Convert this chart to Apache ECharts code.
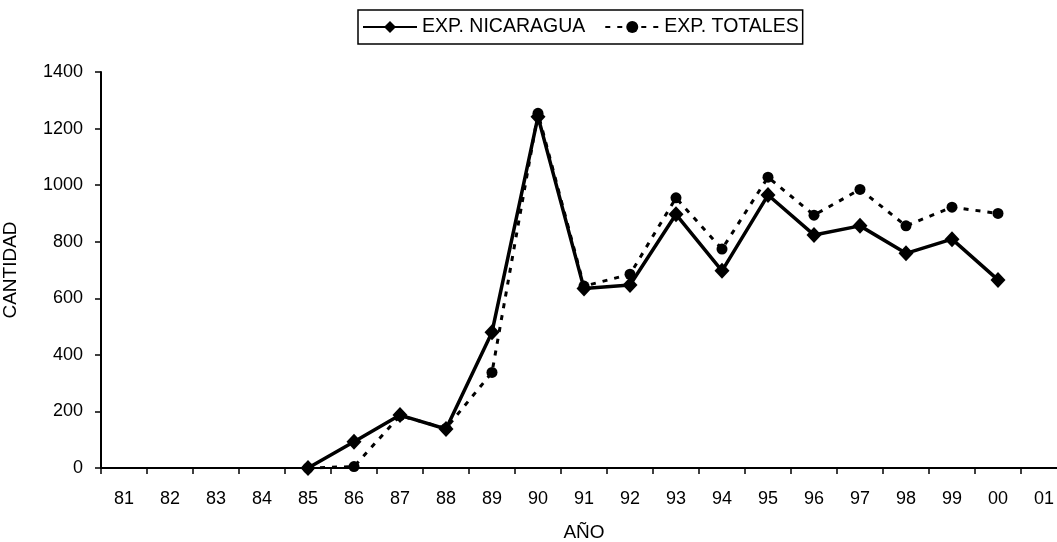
<!DOCTYPE html>
<html><head><meta charset="utf-8">
<script src="https://cdn.jsdelivr.net/npm/echarts@6/dist/echarts.min.js"></script>
<style>html,body{margin:0;padding:0;background:#fff;overflow:hidden}#c{width:1057px;height:542px}</style>
</head><body><div id="c"></div>
<script>
const categories = ['81','82','83','84','85','86','87','88','89','90','91','92','93','94','95','96','97','98','99','00','01'];
const nicaragua = [null,null,null,null,0,93,187,138,480,1242,635,647,897,697,965,824,856,759,809,665,null];
const totales  = [null,null,null,null,0,5,185,140,338,1254,643,685,955,774,1028,894,985,856,922,900,null];
const yTicks = {min:0,max:1400,interval:200};

const chart = echarts.init(document.getElementById('c'));
const font = 'Liberation Sans, Arial, sans-serif';
chart.setOption({
  animation:false,
  backgroundColor:'#fff',
  textStyle:{fontFamily:font,color:'#000'},
  legend:{
    top:10, left:358,
    borderColor:'#000', borderWidth:1.5, padding:[7,4,7,4],
    itemWidth:54, itemHeight:15, itemGap:19,
    textStyle:{fontFamily:font,fontSize:19.5,color:'#000'},
    data:['EXP. NICARAGUA','EXP. TOTALES']
  },
  grid:{left:101,right:-10,top:72,bottom:74,containLabel:false,outerBoundsMode:'none'},
  xAxis:{
    type:'category', data:categories, boundaryGap:true,
    name:'AÑO', nameLocation:'middle', nameGap:55,
    nameTextStyle:{fontFamily:font,fontSize:19,color:'#000'},
    axisLine:{lineStyle:{color:'#000',width:2}},
    axisTick:{show:true,length:6,lineStyle:{color:'#000',width:1.5}},
    axisLabel:{fontFamily:font,fontSize:18,color:'#000',margin:22},
    splitLine:{show:false}
  },
  yAxis:{
    type:'value', min:yTicks.min, max:yTicks.max, interval:yTicks.interval,
    name:'CANTIDAD', nameLocation:'middle', nameGap:81, nameRotate:90,
    nameTextStyle:{fontFamily:font,fontSize:19,color:'#000'},
    axisLine:{show:true,lineStyle:{color:'#000',width:2}},
    axisTick:{show:true,length:6,lineStyle:{color:'#000',width:1.5}},
    axisLabel:{fontFamily:font,fontSize:18,color:'#000',margin:18,formatter:function(v){return String(v);}},
    splitLine:{show:false}
  },
  series:[
    {name:'EXP. TOTALES',type:'line',data:totales,z:2,
     symbol:'circle',symbolSize:11,showAllSymbol:true,
     itemStyle:{color:'#000'},
     lineStyle:{color:'#000',width:3,type:[5,7]}},
    {name:'EXP. NICARAGUA',type:'line',data:nicaragua,z:3,
     symbol:'diamond',symbolSize:[15,16],showAllSymbol:true,
     itemStyle:{color:'#000'},
     lineStyle:{color:'#000',width:3.5}}
  ]
});
</script></body></html>
